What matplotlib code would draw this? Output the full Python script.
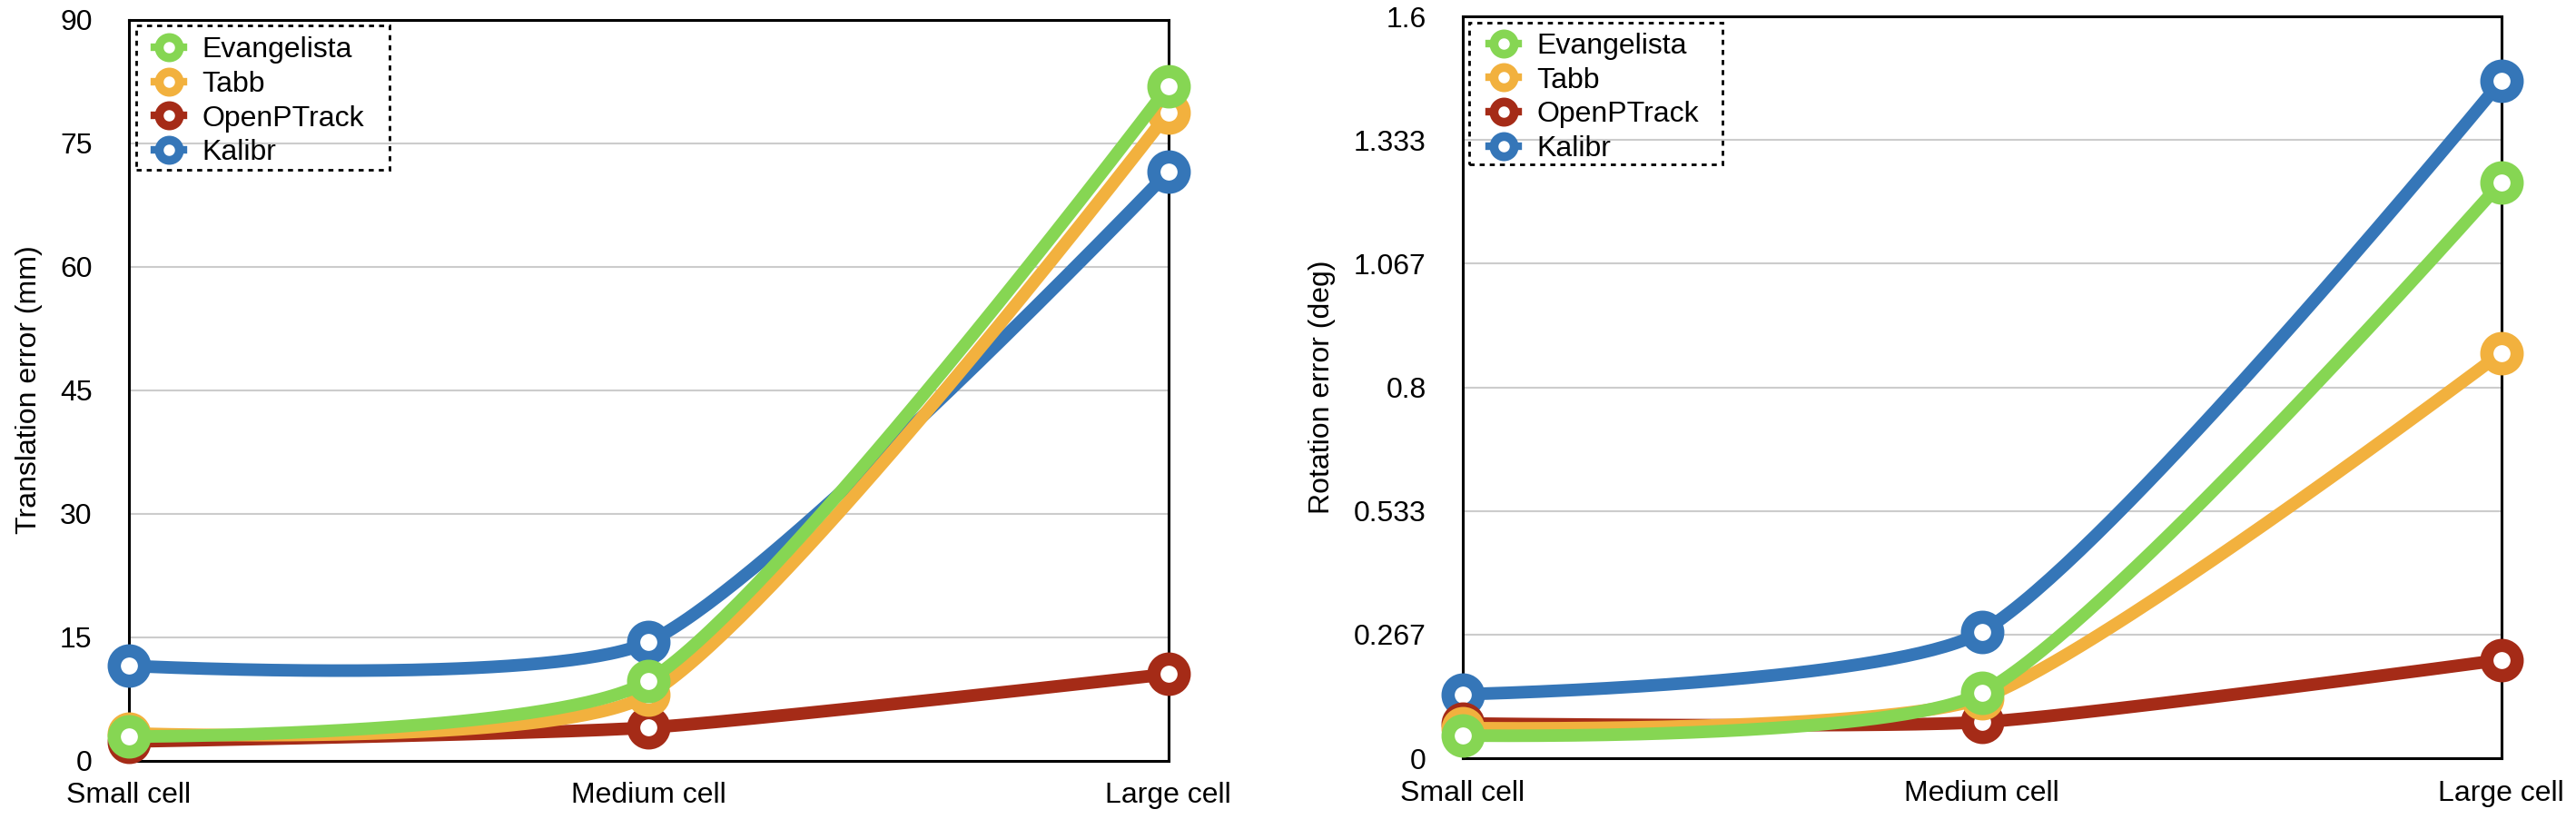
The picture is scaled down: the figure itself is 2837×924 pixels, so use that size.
import matplotlib
matplotlib.use("Agg")
import matplotlib.pyplot as plt
import numpy as np
from matplotlib.lines import Line2D
from matplotlib.patches import Rectangle

plt.rcParams["font.family"] = ["Liberation Sans", "DejaVu Sans"]

categories = ["Small cell", "Medium cell", "Large cell"]
methods = ["Evangelista", "Tabb", "OpenPTrack", "Kalibr"]
colors = {"Evangelista": "#86d653", "Tabb": "#f2b13e",
          "OpenPTrack": "#a52b17", "Kalibr": "#3576b8"}

# translation error (mm)
trans_evangelista = [2.9, 9.7, 81.9]
trans_tabb = [3.3, 8.0, 78.7]
trans_openptrack = [2.3, 4.0, 10.5]
trans_kalibr = [11.5, 14.4, 71.5]
trans_ticks = [0, 15, 30, 45, 60, 75, 90]

# rotation error (deg)
rot_evangelista = [0.049, 0.141, 1.242]
rot_tabb = [0.065, 0.13, 0.874]
rot_openptrack = [0.075, 0.078, 0.212]
rot_kalibr = [0.138, 0.273, 1.461]
rot_tick_labels = ["0", "0.267", "0.533", "0.8", "1.067", "1.333", "1.6"]
rot_max = 1.6

FS = 23


def smooth_curve(ax, xs, ys, f=0.2, n=80):
    # bezier smoothing done in screen space, like the keynote charts
    pts = ax.transData.transform(np.column_stack([xs, ys]))
    parts = []
    t = np.linspace(0, 1, n)[:, None]
    for i in range(len(pts) - 1):
        p0, p1 = pts[i], pts[i + 1]
        seg = np.linalg.norm(p1 - p0)
        c0 = p0.copy()
        c1 = p1.copy()
        if i > 0:
            d = pts[i + 1] - pts[i - 1]
            c0 = p0 + f * seg * d / np.linalg.norm(d)
        if i + 2 < len(pts):
            d = pts[i + 2] - pts[i]
            c1 = p1 - f * seg * d / np.linalg.norm(d)
        b = (1 - t) ** 3 * p0 + 3 * (1 - t) ** 2 * t * c0 + 3 * (1 - t) * t ** 2 * c1 + t ** 3 * p1
        parts.append(b if i == 0 else b[1:])
    curve = ax.transData.inverted().transform(np.vstack(parts))
    return curve[:, 0], curve[:, 1]


def draw_panel(ax, series, yticks, yticklabels, ymax, ylabel, legend_box, legend_anchor):
    x = np.arange(len(categories))
    ax.set_xlim(0, len(categories) - 1)
    ax.set_ylim(0, ymax)
    ax.set_yticks(yticks)
    ax.set_yticklabels(yticklabels)
    ax.set_xticks(x)
    ax.set_xticklabels(categories)
    ax.tick_params(axis="both", length=0, labelsize=FS)
    ax.tick_params(axis="y", pad=29)
    ax.tick_params(axis="x", pad=17)
    ax.set_ylabel(ylabel, fontsize=FS, labelpad=14)
    ax.yaxis.grid(True, color="#cccccc", lw=1.5)
    ax.set_axisbelow(True)
    for sp in ax.spines.values():
        sp.set_linewidth(2.2)
        sp.set_color("black")

    # drawing order: Kalibr at the bottom, Evangelista on top
    for z, name in enumerate(reversed(methods)):
        ys = series[name]
        cx, cy = smooth_curve(ax, x, ys)
        ax.plot(cx, cy, color=colors[name], lw=10, solid_capstyle="round",
                clip_on=False, zorder=4 + 2 * z)
        ax.plot(x, ys, "o", ms=24, mew=10.5, mfc="white", mec=colors[name],
                clip_on=False, zorder=5 + 2 * z)

    ax.add_patch(Rectangle(legend_box[:2], legend_box[2], legend_box[3],
                           transform=ax.transAxes, fill=False, ec="black",
                           lw=2, ls=(0, (2, 2)), zorder=20))
    handles = [Line2D([], [], color=colors[m], lw=6, marker="o", ms=16, mew=7,
                      mfc="white", mec=colors[m]) for m in methods]
    ax.legend(handles, methods, loc="upper left", bbox_to_anchor=legend_anchor,
              frameon=False, fontsize=FS, borderpad=0, borderaxespad=0,
              handlelength=1.0, handletextpad=0.65, labelspacing=0.24)


fig = plt.figure(figsize=(28.37, 9.24), dpi=100)
ax1 = fig.add_axes([0.0500, 0.0936, 0.4036, 0.8831])
ax2 = fig.add_axes([0.5678, 0.0963, 0.4032, 0.8842])

draw_panel(ax1,
           {"Evangelista": trans_evangelista, "Tabb": trans_tabb,
            "OpenPTrack": trans_openptrack, "Kalibr": trans_kalibr},
           trans_ticks, [str(v) for v in trans_ticks], 90,
           "Translation error (mm)",
           (0.007, 0.797, 0.2437, 0.195), (0.0245, 0.977))

rot_ticks = [rot_max * i / (len(rot_tick_labels) - 1) for i in range(len(rot_tick_labels))]
draw_panel(ax2,
           {"Evangelista": rot_evangelista, "Tabb": rot_tabb,
            "OpenPTrack": rot_openptrack, "Kalibr": rot_kalibr},
           rot_ticks, rot_tick_labels, rot_max,
           "Rotation error (deg)",
           (0.0061, 0.8003, 0.2439, 0.1911), (0.0253, 0.978))

fig.savefig("out.png", dpi=100)
